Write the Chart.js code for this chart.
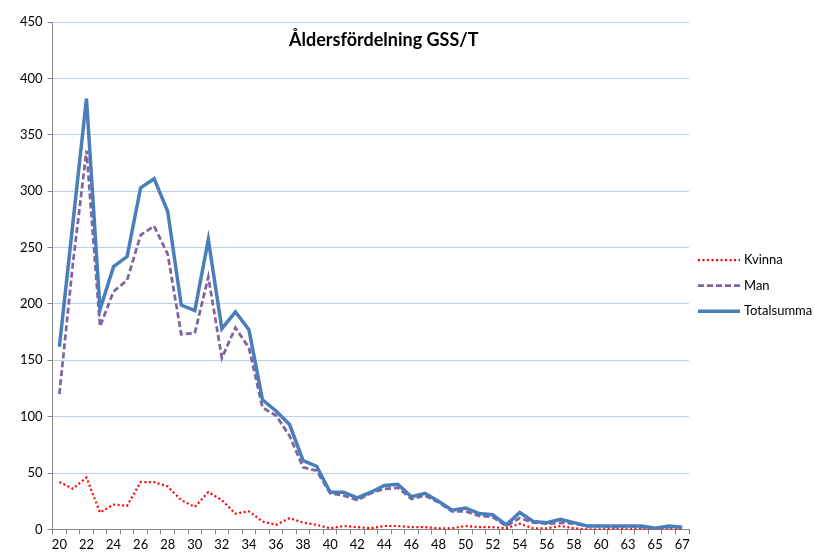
<!DOCTYPE html>
<html>
<head>
<meta charset="utf-8">
<script src="https://cdn.jsdelivr.net/npm/chart.js@4/dist/chart.umd.min.js"></script>
<style>
  html, body { margin: 0; padding: 0; background: #fff; }
  #wrap { width: 815px; height: 556px; }
</style>
</head>
<body>
<div id="wrap"><canvas id="chart" width="815" height="556"></canvas></div>
<script>
// ages on the x axis (62 is not in the data)
const ages = [20,21,22,23,24,25,26,27,28,29,30,31,32,33,34,35,36,37,38,39,40,41,42,43,44,45,46,47,48,49,50,51,52,53,54,55,56,57,58,59,60,61,63,64,65,66,67];

const kvinna = [42,36,46,15,22,21,42,42,38,26,20,33,26,14,16,7,4,10,6,4,1,3,2,1,3,3,2,2,1,1,3,2,2,1,5,1,1,3,1,0,0,1,0,1,0,1,0];
const man = [120,236,336,180,211,221,261,269,244,173,174,224,152,179,161,108,101,83,55,52,32,30,26,32,36,37,27,30,24,16,16,12,11,3,10,6,5,6,5,3,3,2,3,2,1,2,2];
const totalsumma = [162,272,382,195,233,242,303,311,282,199,194,257,178,193,177,115,105,93,61,56,33,33,28,33,39,40,29,32,25,17,19,14,13,4,15,7,6,9,6,3,3,3,3,3,1,3,2];

const yTicks = [0,50,100,150,200,250,300,350,400,450];
const title = "Åldersfördelning GSS/T";

const font = "Lato, 'Liberation Sans', sans-serif";

let ctx = document.querySelector('#chart').getContext('2d');

// title sits inside the plot area, like in the Excel original
const titlePlugin = {
  id: "innerTitle",
  afterDraw(chart){
    let area = chart.chartArea;
    let c = chart.ctx;
    c.save();
    c.font = "bold 18px " + font;
    c.fillStyle = "#000";
    c.textAlign = "center";
    c.textBaseline = "middle";
    c.fillText(title, (area.left + area.right) / 2 + 13, area.top + 18);
    c.restore();
  }
};

// legend to the right of the plot, line samples use each dataset's own style
const legendPlugin = {
  id: "sideLegend",
  afterDraw(chart){
    let area = chart.chartArea;
    let c = chart.ctx;
    let x = area.right + 9;
    let midY = (area.top + area.bottom) / 2 + 10;
    c.save();
    chart.data.datasets.forEach((ds, i) => {
      let y = midY + (i - 1) * 25.5;
      c.beginPath();
      c.strokeStyle = ds.borderColor;
      c.lineWidth = ds.borderWidth;
      c.setLineDash(ds.borderDash || []);
      c.moveTo(x, y);
      c.lineTo(x + 42, y);
      c.stroke();
      c.setLineDash([]);
      c.font = "13px " + font;
      c.fillStyle = "#000";
      c.textAlign = "left";
      c.textBaseline = "middle";
      c.fillText(ds.label, x + 46, y);
    });
    c.restore();
  }
};

let chart = new Chart(ctx, {
  type: "line",
  data: {
    labels: ages,
    datasets: [{
      label: "Kvinna",
      data: kvinna,
      borderColor: "#ff0000",
      borderWidth: 2.2,
      borderDash: [2, 2.5],
      order: 2
    }, {
      label: "Man",
      data: man,
      borderColor: "#8064a2",
      borderWidth: 2.75,
      borderDash: [6, 3],
      order: 1
    }, {
      label: "Totalsumma",
      data: totalsumma,
      borderColor: "#4a7ebb",
      borderWidth: 3.5,
      order: 0
    }]
  },
  options: {
    responsive: false,
    animation: false,
    elements: {
      point: { radius: 0 },
      line: { tension: 0 }
    },
    layout: {
      padding: { top: 22, left: 15, right: 126, bottom: 0 }
    },
    plugins: {
      tooltip: { enabled: false },
      legend: { display: false }
    },
    scales: {
      x: {
        offset: true,
        grid: {
          offset: true,
          drawOnChartArea: false,
          drawTicks: true,
          tickLength: 5,
          color: "#868686"
        },
        border: { color: "#868686", width: 1 },
        ticks: {
          autoSkip: false,
          maxRotation: 0,
          padding: 3,
          color: "#000",
          font: { family: font, size: 13 },
          callback: function(value, index){
            return index % 2 === 0 ? this.getLabelForValue(value) : "";
          }
        }
      },
      y: {
        min: yTicks[0],
        max: yTicks[yTicks.length - 1],
        afterBuildTicks: function(axis){
          axis.ticks = yTicks.map(v => ({value: v}));
        },
        grid: {
          color: function(c){ return c.tick && c.tick.value === 0 ? "#868686" : "#bcd0ea"; },
          tickColor: "#868686",
          tickLength: 5,
          lineWidth: 1
        },
        border: { color: "#868686", width: 1 },
        ticks: {
          padding: 5,
          color: "#000",
          font: { family: font, size: 13 }
        }
      }
    }
  },
  plugins: [titlePlugin, legendPlugin]
});
</script>
</body>
</html>
